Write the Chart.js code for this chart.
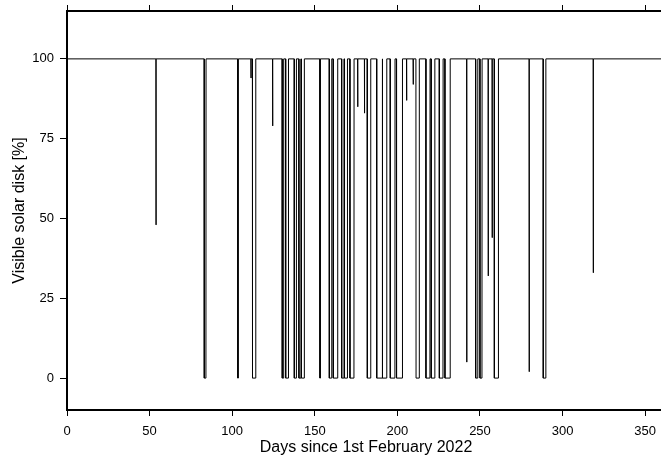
<!DOCTYPE html>
<html>
<head>
<meta charset="utf-8">
<script src="https://cdn.jsdelivr.net/npm/chart.js@4.4.0/dist/chart.umd.min.js"></script>
<style>
    html, body { margin: 0; padding: 0; background: #fff; overflow: hidden; }
    #wrap { width: 665px; height: 458px; }
</style>
</head>
<body>
<div id="wrap"><canvas id="chart"></canvas></div>
<script>
// 軸の範囲と目盛り
const dayMin = 0;
const dayMax = 362;
const visMin = -10;
const visMax = 115;
const xTickValues = [0, 50, 100, 150, 200, 250, 300, 350];
const yTickValues = [0, 25, 50, 75, 100];

// 太陽面が隠れた区間 (開始日, 終了日, 最小値[%])
const dipStart = [53.9, 83.1, 103.4, 111.4, 112.3, 124.5, 130.3, 132.4, 137.6, 140.4,
    142.0, 153.1, 158.8, 161.2, 166.3, 168.0, 171.3, 176.0, 180.1, 181.8,
    187.5, 191.1, 195.7, 199.5, 205.6, 209.6, 211.3, 217.3, 220.5, 225.4,
    228.8, 242.0, 247.4, 250.0, 255.0, 257.4, 258.7, 279.8, 288.3, 318.6];
const dipEnd = [53.9, 84.1, 103.6, 111.4, 114.2, 124.5, 131.1, 134.0, 138.8, 141.6,
    143.6, 153.3, 160.2, 163.8, 167.6, 169.7, 173.7, 176.0, 180.1, 183.8,
    190.7, 193.5, 198.5, 203.0, 205.6, 209.6, 213.2, 219.7, 222.6, 227.6,
    231.9, 242.0, 248.6, 251.2, 255.0, 257.4, 261.1, 279.8, 289.8, 318.6];
const dipLow = [48, 0, 0, 94, 0, 79, 0, 0, 0, 0,
    0, 0, 0, 0, 0, 0, 0, 85, 83, 0,
    0, 0, 0, 0, 87, 92, 0, 0, 0, 0,
    0, 5, 0, 0, 32, 44, 0, 2, 0, 33];

// 区間データから折れ線用の点列を作る
function buildSeries() {
    const pts = [{ x: dayMin, y: 100 }];
    for (let i = 0; i < dipStart.length; i++) {
        pts.push({ x: dipStart[i] - 0.08, y: 100 });
        pts.push({ x: dipStart[i], y: dipLow[i] });
        pts.push({ x: dipEnd[i], y: dipLow[i] });
        pts.push({ x: dipEnd[i] + 0.08, y: 100 });
    }
    pts.push({ x: dayMax + 5, y: 100 });
    return pts;
}

const fontName = "'Liberation Sans', Arial, sans-serif";
Chart.defaults.font.family = fontName;
Chart.defaults.color = '#000';

function fixTicks(values) {
    return scale => { scale.ticks = values.map(v => ({ value: v })); };
}

new Chart(document.getElementById('chart'), {
    type: 'line',
    data: {
        datasets: [{
            data: buildSeries(),
            borderColor: '#000',
            borderWidth: 1,
            pointRadius: 0,
            tension: 0,
            fill: false
        }]
    },
    options: {
        responsive: true,
        maintainAspectRatio: false,
        animation: false,
        events: [],
        layout: { padding: 0 },
        plugins: {
            legend: { display: false },
            tooltip: { enabled: false }
        },
        scales: {
            x: {
                type: 'linear',
                position: 'bottom',
                min: dayMin,
                max: dayMax,
                afterBuildTicks: fixTicks(xTickValues),
                afterFit: s => { s.height = 48; },
                grid: { drawOnChartArea: false, color: '#000', tickLength: 6, tickWidth: 1 },
                border: { color: '#000', width: 2 },
                ticks: { font: { size: 13 }, padding: 8, maxRotation: 0 },
                title: {
                    display: true,
                    text: 'Days since 1st February 2022',
                    font: { size: 16 },
                    padding: { top: 0, bottom: 1 }
                }
            },
            xTop: {
                type: 'linear',
                position: 'top',
                min: dayMin,
                max: dayMax,
                afterBuildTicks: fixTicks(xTickValues),
                afterFit: s => { s.height = 11; },
                grid: { drawOnChartArea: false, color: '#000', tickLength: 6, tickWidth: 1 },
                border: { color: '#000', width: 2 },
                ticks: { display: false }
            },
            y: {
                type: 'linear',
                position: 'left',
                min: visMin,
                max: visMax,
                afterBuildTicks: fixTicks(yTickValues),
                afterFit: s => {
                    s.width = 67;
                    s.paddingTop = 0;
                    s.paddingBottom = 0;
                },
                grid: { drawOnChartArea: false, color: '#000', tickLength: 7, tickWidth: 1 },
                border: { color: '#000', width: 2 },
                ticks: { font: { size: 13 }, padding: 6 },
                title: {
                    display: true,
                    text: 'Visible solar disk [%]',
                    font: { size: 16 },
                    padding: { top: 10, bottom: 0 }
                }
            }
        }
    }
});
</script>
</body>
</html>
